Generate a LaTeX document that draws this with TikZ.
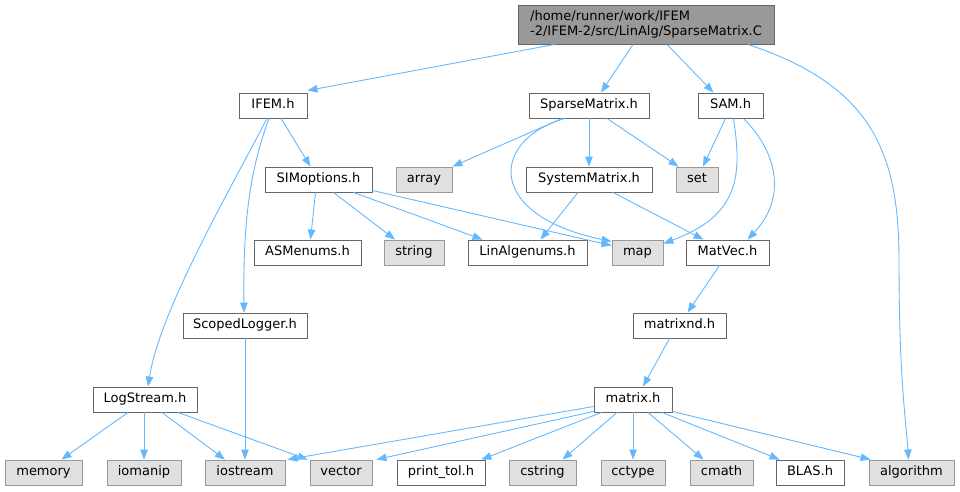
\documentclass[tikz,border=0pt]{standalone}
\usepackage{fontspec}
\setmainfont{DejaVu Sans}
\usetikzlibrary{arrows.meta,calc}
\definecolor{edgeblue}{HTML}{63B8FF}
\definecolor{boxborder}{HTML}{666666}
\definecolor{extborder}{HTML}{999999}
\definecolor{extfill}{HTML}{E0E0E0}
\definecolor{rootfill}{HTML}{999999}
\begin{document}
\begin{tikzpicture}[x=1pt,y=-1pt,
  every node/.style={font=\fontsize{13}{15.5}\selectfont, inner sep=0pt, minimum height=25pt},
  hdr/.style={draw=boxborder, line width=0.9pt, fill=white, minimum width=#1, text height=9.6pt, text depth=2.8pt},
  ext/.style={draw=extborder, line width=0.9pt, fill=extfill, minimum width=#1, text height=9.6pt, text depth=2.8pt},
  rootbox/.style={draw=boxborder, line width=0.9pt, fill=rootfill, minimum width=256pt, minimum height=39pt, align=left},
  dep/.style={draw=edgeblue, line width=0.9pt, -{Triangle[length=10pt,width=7.5pt]}}
]
\useasboundingbox (0,0) rectangle (960,491);

% nodes
\node[rootbox] (root) at (646,24.5) {/home/runner/work/IFEM\\-2/IFEM-2/src/LinAlg/SparseMatrix.C};

\node[hdr=68pt] (IFEM) at (273,105.5) {IFEM.h};
\node[hdr=120pt] (SparseMatrix) at (589,105.5) {SparseMatrix.h};
\node[hdr=65pt] (SAM) at (730.5,105.5) {SAM.h};

\node[hdr=107pt] (SIMoptions) at (318.5,179.5) {SIMoptions.h};
\node[ext=56pt] (array) at (424,179.5) {array};
\node[hdr=126pt] (SystemMatrix) at (589,179.5) {SystemMatrix.h};
\node[ext=42pt] (set) at (697,179.5) {set};

\node[hdr=107pt] (ASMenums) at (307.5,252.5) {ASMenums.h};
\node[ext=60pt] (string) at (414,252.5) {string};
\node[hdr=119pt] (LinAlgenums) at (527.5,252.5) {LinAlgenums.h};
\node[ext=51pt] (map) at (637.5,252.5) {map};
\node[hdr=83pt] (MatVec) at (727.5,252.5) {MatVec.h};

\node[hdr=124pt] (ScopedLogger) at (245,325.5) {ScopedLogger.h};
\node[hdr=93pt] (matrixnd) at (679.5,325.5) {matrixnd.h};

\node[hdr=104pt] (LogStream) at (145,399.5) {LogStream.h};
\node[hdr=78pt] (matrix) at (633,399.5) {matrix.h};

\node[ext=77pt] (memory) at (43.5,472.5) {memory};
\node[ext=74pt] (iomanip) at (144,472.5) {iomanip};
\node[ext=80pt] (iostream) at (245,472.5) {iostream};
\node[ext=62pt] (vector) at (341,472.5) {vector};
\node[hdr=88pt] (printtol) at (441,472.5) {print\_tol.h};
\node[ext=67pt] (cstring) at (542.5,472.5) {cstring};
\node[ext=64pt] (cctype) at (633,472.5) {cctype};
\node[ext=63pt] (cmath) at (721.5,472.5) {cmath};
\node[hdr=68pt] (BLAS) at (810,472.5) {BLAS.h};
\node[ext=85pt] (algorithm) at (911.5,472.5) {algorithm};

% edges from root
\draw[dep] ($(root.south west)+(37,0)$) -- ($(IFEM.north east)+(0,-2)$);
\draw[dep] ($(root.south)+(-13,0)$) -- ($(SparseMatrix.north)+(12,0)$);
\draw[dep] ($(root.south)+(21,0)$) -- ($(SAM.north)+(-17,0)$);
\draw[dep] ($(root.south)+(102,0)$) .. controls (870,85) and (899,150) .. (899,260)
  .. controls (899,380) and (906,420) .. ($(algorithm.north)+(-3,0)$);

% IFEM.h
\draw[dep] ($(IFEM.south)+(8,0)$) -- ($(SIMoptions.north)+(-8,0)$);
\draw[dep] ($(IFEM.south)+(-6,0)$) .. controls (230,190) and (160,310) .. ($(LogStream.north)+(3,0)$);
\draw[dep] ($(IFEM.south)+(-4,0)$) .. controls (250,170) and (243,220) .. ($(ScopedLogger.north)+(-1,0)$);

% SparseMatrix.h
\draw[dep] ($(SparseMatrix.south)+(-27,0)$) -- (array.north east);
\draw[dep] ($(SparseMatrix.south)+(-24,0)$) .. controls (490,140) and (485,215) .. ($(map.north west)+(0,2)$);
\draw[dep] (SparseMatrix) -- (SystemMatrix);
\draw[dep] ($(SparseMatrix.south)+(18,0)$) -- ($(set.north west)+(3,0)$);

% SAM.h
\draw[dep] ($(SAM.south)+(-5,0)$) -- ($(set.north)+(6,0)$);
\draw[dep] ($(SAM.south)+(3,0)$) .. controls (742,175) and (740,215) .. ($(map.east)+(0,-9)$);
\draw[dep] ($(SAM.south)+(13,0)$) .. controls (780,155) and (785,200) .. ($(MatVec.north)+(20,0)$);

% SIMoptions.h
\draw[dep] ($(SIMoptions.south)+(-3,0)$) -- ($(ASMenums.north)+(3,0)$);
\draw[dep] ($(SIMoptions.south)+(15,0)$) -- ($(string.north)+(-19,0)$);
\draw[dep] ($(SIMoptions.south)+(35,0)$) -- ($(LinAlgenums.north)+(-45,0)$);
\draw[dep] ($(SIMoptions.south east)+(0,-2)$) -- ($(map.west)+(0,-7)$);

% SystemMatrix.h
\draw[dep] ($(SystemMatrix.south)+(-11,0)$) -- ($(LinAlgenums.north)+(13,0)$);
\draw[dep] ($(SystemMatrix.south)+(24,0)$) -- ($(MatVec.north)+(-24,0)$);

% chain
\draw[dep] ($(MatVec.south)+(-8,0)$) -- ($(matrixnd.north)+(8,0)$);
\draw[dep] ($(matrixnd.south)+(-10,0)$) -- ($(matrix.north)+(10,0)$);
\draw[dep] (ScopedLogger) -- (iostream);

% LogStream.h
\draw[dep] ($(LogStream.south)+(-17,0)$) -- ($(memory.north)+(18,0)$);
\draw[dep] ($(LogStream.south)+(-1,0)$) -- ($(iomanip.north)+(0,0)$);
\draw[dep] ($(LogStream.south)+(17,0)$) -- ($(iostream.north)+(-20,0)$);
\draw[dep] ($(LogStream.south)+(33,0)$) -- ($(vector.north west)+(-2,0)$);

% matrix.h
\draw[dep] ($(matrix.west)+(0,7)$) -- ($(iostream.north east)+(2,0)$);
\draw[dep] ($(matrix.south west)+(0,-1)$) -- ($(vector.north east)+(4,0)$);
\draw[dep] ($(matrix.south west)+(8,0)$) -- ($(printtol.north east)+(-4,0)$);
\draw[dep] ($(matrix.south)+(-16,0)$) -- ($(cstring.north)+(20,0)$);
\draw[dep] (matrix) -- (cctype);
\draw[dep] ($(matrix.south)+(15,0)$) -- ($(cmath.north)+(-18,0)$);
\draw[dep] ($(matrix.south)+(29,0)$) -- ($(BLAS.north west)+(4,0)$);
\draw[dep] ($(matrix.south east)+(0,-1)$) -- ($(algorithm.north west)+(2,0)$);
\end{tikzpicture}
\end{document}
